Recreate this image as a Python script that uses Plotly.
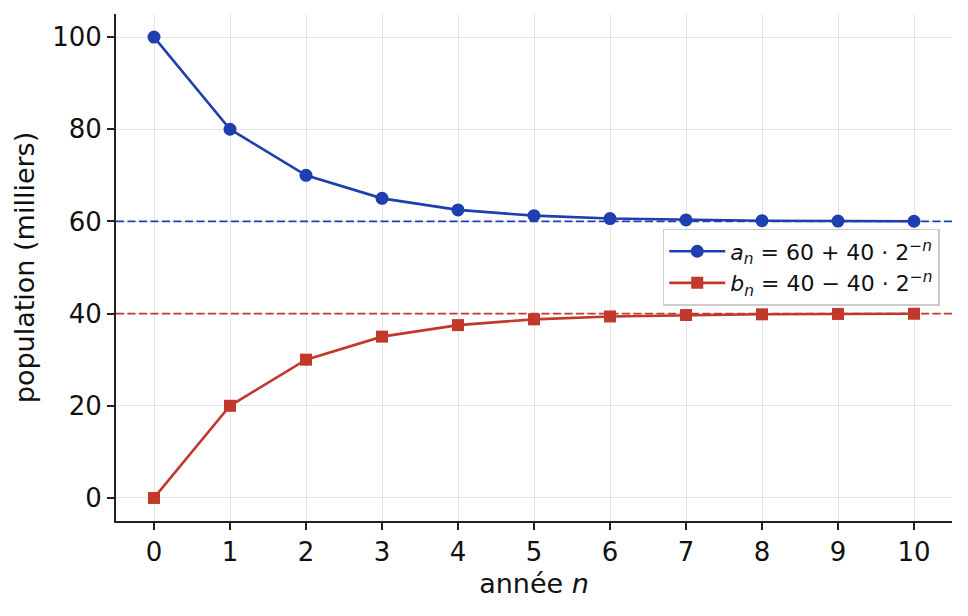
import plotly.graph_objects as go

n = [0, 1, 2, 3, 4, 5, 6, 7, 8, 9, 10]
a_vals = [100, 80, 70, 65, 62.5, 61.25, 60.625, 60.3125, 60.156, 60.078, 60.039]
b_vals = [0, 20, 30, 35, 37.5, 38.75, 39.375, 39.6875, 39.844, 39.922, 39.961]
limit_a = 60
limit_b = 40
x_ticks = [0, 1, 2, 3, 4, 5, 6, 7, 8, 9, 10]
y_ticks = [0, 20, 40, 60, 80, 100]

blue = "#1e3fad"
red = "#c0392b"

fig = go.Figure()
fig.add_hline(y=limit_a, line=dict(color=blue, width=1.6, dash="8px,3.5px"))
fig.add_hline(y=limit_b, line=dict(color=red, width=1.6, dash="8px,3.5px"))
fig.add_trace(go.Scatter(
    x=n, y=a_vals, mode="lines+markers",
    name="<i>a</i><sub><i>n</i></sub> = 60 + 40 · 2<sup>−<i>n</i></sup>",
    line=dict(color=blue, width=2.6),
    marker=dict(symbol="circle", size=13, color=blue),
))
fig.add_trace(go.Scatter(
    x=n, y=b_vals, mode="lines+markers",
    name="<i>b</i><sub><i>n</i></sub> = 40 − 40 · 2<sup>−<i>n</i></sup>",
    line=dict(color=red, width=2.6),
    marker=dict(symbol="square", size=12, color=red),
))

axis_common = dict(
    showgrid=True, gridcolor="rgba(0,0,0,0.1)", gridwidth=1.2,
    showline=True, linecolor="#222", linewidth=1.8,
    ticks="outside", ticklen=7, tickwidth=1.6, tickcolor="#222",
    zeroline=False, mirror=False,
    tickfont=dict(size=26, color="#111"),
)
fig.update_xaxes(range=[-0.5, 10.5], tickvals=x_ticks,
                 title=dict(text="année <i>n</i>", font=dict(size=27, color="#111"), standoff=8),
                 **axis_common)
fig.update_yaxes(range=[-5, 105], tickvals=y_ticks,
                 title=dict(text="population (milliers)", font=dict(size=27, color="#111"), standoff=10),
                 **axis_common)

fig.update_layout(
    width=968, height=616,
    margin=dict(l=108, r=24, t=6, b=103),
    plot_bgcolor="white", paper_bgcolor="white",
    font=dict(family="DejaVu Sans", color="#111"),
    legend=dict(
        x=0.654, y=0.576, xanchor="left", yanchor="top",
        bgcolor="rgba(255,255,255,0.85)", bordercolor="#cccccc", borderwidth=1.5,
        font=dict(size=22), itemwidth=56,
    ),
    showlegend=True,
)

fig.write_html("out.html")
